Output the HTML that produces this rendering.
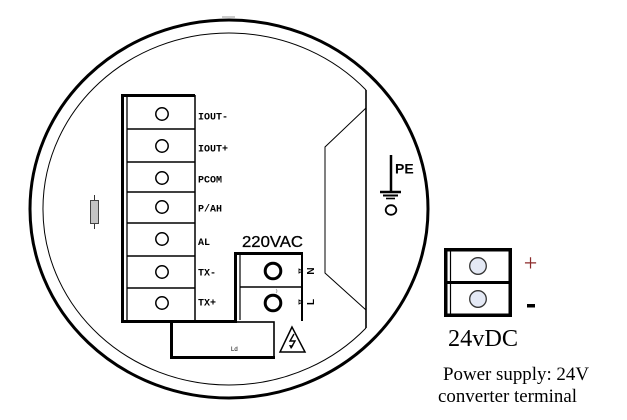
<!DOCTYPE html>
<html>
<head>
<meta charset="utf-8">
<style>
  html,body{margin:0;padding:0;background:#fff;}
  body{width:627px;height:420px;overflow:hidden;}
  svg{display:block;}
</style>
</head>
<body>
<svg width="627" height="420" viewBox="0 0 627 420" xmlns="http://www.w3.org/2000/svg">
  <!-- outer housing -->
  <ellipse cx="229" cy="209" rx="199" ry="189" fill="none" stroke="#000" stroke-width="3"/>
  <line x1="222" y1="17" x2="235" y2="17" stroke="#bbb" stroke-width="1.5"/>
  <!-- inner contour -->
  <path d="M366,90 A186,176 0 1,0 366,328" fill="none" stroke="#000" stroke-width="1"/>
  <line x1="366" y1="90" x2="366" y2="328" stroke="#000" stroke-width="1.6"/>
  <path d="M366,108 L325,147 L325,273 L366,310" fill="none" stroke="#000" stroke-width="1"/>

  <!-- left small component -->
  <line x1="94.5" y1="195" x2="94.5" y2="229" stroke="#333" stroke-width="1"/>
  <rect x="90.5" y="200.5" width="8" height="23" fill="#c4c4c4" stroke="#444" stroke-width="1"/>

  <!-- terminal block -->
  <rect x="121" y="94" width="74" height="3" fill="#000"/>
  <rect x="121" y="94" width="3" height="229" fill="#000"/>
  <line x1="127" y1="97" x2="127" y2="320" stroke="#000" stroke-width="1.3"/>
  <line x1="195" y1="95" x2="195" y2="320" stroke="#000" stroke-width="1.5"/>
  <g stroke="#000" stroke-width="1.5">
    <line x1="127" y1="129" x2="195" y2="129"/>
    <line x1="127" y1="162" x2="195" y2="162"/>
    <line x1="127" y1="192" x2="195" y2="192"/>
    <line x1="127" y1="223" x2="195" y2="223"/>
    <line x1="127" y1="256" x2="195" y2="256"/>
    <line x1="127" y1="288" x2="195" y2="288"/>
  </g>
  <rect x="121" y="320" width="116" height="3" fill="#000"/>
  <g fill="none" stroke="#000" stroke-width="1.5">
    <circle cx="162" cy="114" r="6.2"/>
    <circle cx="162" cy="146" r="6.2"/>
    <circle cx="162" cy="178" r="6.2"/>
    <circle cx="162" cy="207" r="6.2"/>
    <circle cx="162" cy="239" r="6.2"/>
    <circle cx="162" cy="272" r="6.2"/>
    <circle cx="162" cy="303" r="6.2"/>
  </g>
  <g font-family="Liberation Mono, monospace" font-size="10" font-weight="bold" fill="#000">
    <text x="198" y="119.5">IOUT-</text>
    <text x="198" y="151.5">IOUT+</text>
    <text x="198" y="182.5">PCOM</text>
    <text x="198" y="211.5">P/AH</text>
    <text x="198" y="245">AL</text>
    <text x="198" y="275.5">TX-</text>
    <text x="198" y="305.5">TX+</text>
  </g>

  <!-- 220VAC block -->
  <text x="242" y="247" font-family="Liberation Sans, sans-serif" font-size="16" fill="#000" stroke="#000" stroke-width="0.3" textLength="61" lengthAdjust="spacingAndGlyphs">220VAC</text>
  <rect x="234" y="252" width="3" height="70" fill="#000"/>
  <rect x="234" y="252" width="69" height="3" fill="#000"/>
  <line x1="302" y1="253" x2="302" y2="321" stroke="#000" stroke-width="2"/>
  <line x1="240" y1="255" x2="240" y2="320" stroke="#000" stroke-width="1.2"/>
  <line x1="240" y1="287" x2="302" y2="287" stroke="#000" stroke-width="1.6"/>
  <circle cx="273" cy="271" r="7.8" fill="none" stroke="#000" stroke-width="3"/>
  <circle cx="273" cy="303" r="7.8" fill="none" stroke="#000" stroke-width="3"/>
  <path d="M276,289 q2,2 0,4" fill="none" stroke="#999" stroke-width="0.8"/>
  <g fill="none" stroke="#000" stroke-width="0.9">
    <path d="M299,269 L302.5,271 L299,273 Z"/>
    <path d="M299,300 L302.5,302 L299,304 Z"/>
  </g>
  <g font-family="Liberation Sans, sans-serif" font-size="10" font-weight="bold" fill="#000">
    <text transform="translate(314,271) rotate(-90)" text-anchor="middle">N</text>
    <text transform="translate(314,302) rotate(-90)" text-anchor="middle">L</text>
  </g>

  <!-- Ld box -->
  <rect x="172" y="322" width="102" height="36" fill="none" stroke="#000" stroke-width="1.6"/>
  <rect x="170" y="322" width="3" height="37" fill="#000"/>
  <rect x="170" y="356" width="105" height="3" fill="#000"/>
  <text x="231" y="351" font-family="Liberation Sans, sans-serif" font-size="6" fill="#000">Ld</text>

  <!-- warning triangle -->
  <polygon points="292,327 280,352 305,352" fill="none" stroke="#000" stroke-width="1.5" stroke-linejoin="miter"/>
  <path d="M294,334 L290,341 L295,341 L291,348" fill="none" stroke="#000" stroke-width="1.4"/>
  <path d="M289,345 L291,349 L293.5,345.5 Z" fill="#000"/>

  <!-- PE ground -->
  <line x1="391" y1="155" x2="391" y2="192" stroke="#000" stroke-width="2.5"/>
  <line x1="380" y1="192" x2="401" y2="192" stroke="#000" stroke-width="2.5"/>
  <line x1="383" y1="195.5" x2="398" y2="195.5" stroke="#000" stroke-width="2"/>
  <line x1="386" y1="198.5" x2="395" y2="198.5" stroke="#000" stroke-width="1.6"/>
  <text x="395" y="173.5" font-family="Liberation Sans, sans-serif" font-size="14" font-weight="bold" fill="#000">PE</text>
  <ellipse cx="391" cy="210" rx="5.3" ry="4.8" fill="none" stroke="#000" stroke-width="1.8"/>

  <!-- 24VDC block -->
  <rect x="445.75" y="249.75" width="64.5" height="65.5" fill="none" stroke="#000" stroke-width="3.5"/>
  <line x1="444" y1="282.5" x2="512" y2="282.5" stroke="#000" stroke-width="3"/>
  <line x1="450.5" y1="251" x2="450.5" y2="315" stroke="#000" stroke-width="1.2"/>
  <circle cx="478" cy="266" r="8.3" fill="#e4e9f5" stroke="#333" stroke-width="1.3"/>
  <circle cx="478" cy="299" r="8.3" fill="#e4e9f5" stroke="#333" stroke-width="1.3"/>
  <text x="530.5" y="271" text-anchor="middle" font-family="Liberation Serif, serif" font-size="24" fill="#8b2a2a">+</text>
  <rect x="527" y="304" width="8" height="3.5" fill="#000"/>

  <g font-family="Liberation Serif, serif" fill="#000">
    <text x="448" y="346" font-size="24" textLength="70" lengthAdjust="spacingAndGlyphs">24vDC</text>
    <text x="443" y="380" font-size="18.5" textLength="146" lengthAdjust="spacingAndGlyphs">Power supply: 24V</text>
    <text x="438" y="402" font-size="18.5" textLength="139" lengthAdjust="spacingAndGlyphs">converter terminal</text>
  </g>
</svg>
</body>
</html>
